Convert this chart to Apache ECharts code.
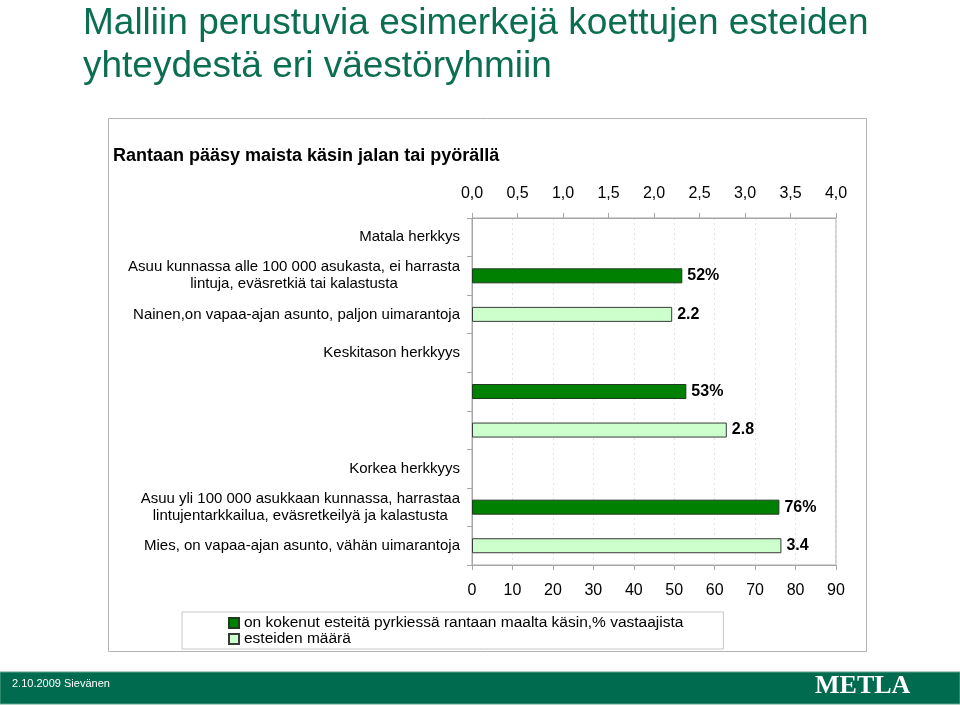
<!DOCTYPE html>
<html>
<head>
<meta charset="utf-8">
<script src="https://cdn.jsdelivr.net/npm/echarts@6/dist/echarts.min.js"></script>
<style>
html,body{margin:0;padding:0;background:#fff;}
#chart{width:960px;height:705px;}
</style>
</head>
<body>
<div id="chart"></div>
<script>
var titleLines = ['Malliin perustuvia esimerkejä koettujen esteiden', 'yhteydestä eri väestöryhmiin'];
var subtitle = 'Rantaan pääsy maista käsin jalan tai pyörällä';
var categories = [
  'Matala herkkys',
  'Asuu kunnassa alle 100 000 asukasta, ei harrasta\nlintuja, eväsretkiä tai kalastusta',
  'Nainen,on vapaa-ajan asunto, paljon uimarantoja',
  'Keskitason herkkyys',
  '',
  ' ',
  'Korkea herkkyys',
  'Asuu yli 100 000 asukkaan kunnassa, harrastaa\nlintujentarkkailua, eväsretkeilyä ja kalastusta',
  'Mies, on vapaa-ajan asunto, vähän uimarantoja'
];
var seriesNames = ['on kokenut esteitä pyrkiessä rantaan maalta käsin,% vastaajista', 'esteiden määrä'];
var sharePct = [null, 52, null, null, 53, null, null, 76, null];
var obstacleCount = [null, null, 2.2, null, null, 2.8, null, null, 3.4];
var pctTicks = {min: 0, max: 90, interval: 10};
var countTicks = {min: 0, max: 4, interval: 0.5};
var footerLeft = '2.10.2009 Sievänen';
var footerRight = 'METLA';

var FONT = '"Liberation Sans", Arial, sans-serif';
var chart = echarts.init(document.getElementById('chart'), null, {renderer: 'canvas'});
var axisGrey = '#a6a6a6';

chart.setOption({
  backgroundColor: '#ffffff',
  animation: false,
  textStyle: {fontFamily: FONT},
  title: [{
    text: titleLines.join('\n'),
    left: 78, top: -3,
    textStyle: {fontFamily: FONT, fontSize: 37, fontWeight: 'normal', color: '#0b6e50', lineHeight: 43}
  }, {
    text: subtitle,
    left: 108, top: 142,
    textStyle: {fontFamily: FONT, fontSize: 18, fontWeight: 'bold', color: '#000'}
  }],
  graphic: [
    {type: 'rect', shape: {x: 108.5, y: 118.5, width: 758, height: 533}, style: {fill: 'none', stroke: '#b4b4b4', lineWidth: 1}, z: -1},
    {type: 'rect', shape: {x: 0, y: 672, width: 960, height: 32}, style: {fill: '#006b4f', stroke: '#5aa58a', lineWidth: 1}},
    {type: 'text', left: 12, top: 678, style: {text: footerLeft, fill: '#fff', font: '11px ' + FONT}},
    {type: 'text', left: 815, top: 673, style: {text: footerRight, fill: '#fff', font: 'bold 26px "Liberation Serif", "Times New Roman", serif'}}
  ],
  legend: {
    orient: 'vertical',
    left: 182, top: 612,
    padding: [3, 40, 2, 46],
    itemGap: 0,
    itemWidth: 10, itemHeight: 10,
    icon: 'rect',
    borderColor: '#c8c8c8', borderWidth: 1,
    textStyle: {fontFamily: FONT, fontSize: 15.5, lineHeight: 16, color: '#000'},
    data: seriesNames
  },
  grid: {left: 472, right: 124, top: 218, bottom: 140, show: true, borderColor: axisGrey, borderWidth: 1, containLabel: false},
  xAxis: [{
    type: 'value', position: 'bottom',
    min: pctTicks.min, max: pctTicks.max, interval: pctTicks.interval,
    axisLine: {show: true, lineStyle: {color: axisGrey}},
    axisTick: {show: true, length: 5, lineStyle: {color: axisGrey}},
    axisLabel: {fontFamily: FONT, fontSize: 16, color: '#000', margin: 18},
    splitLine: {show: true, lineStyle: {color: '#e4e4e4', type: [2, 3]}}
  }, {
    type: 'value', position: 'top',
    min: countTicks.min, max: countTicks.max, interval: countTicks.interval,
    axisLine: {show: true, lineStyle: {color: axisGrey}},
    axisTick: {show: true, length: 5, lineStyle: {color: axisGrey}},
    axisLabel: {fontFamily: FONT, fontSize: 16, color: '#000', margin: 16,
      formatter: function (v) { return v.toFixed(1).replace('.', ','); }},
    splitLine: {show: false}
  }],
  yAxis: {
    type: 'category', inverse: true, data: categories,
    axisLine: {show: true, lineStyle: {color: axisGrey}},
    axisTick: {show: true, length: 5, lineStyle: {color: axisGrey}},
    axisLabel: {
      margin: 12, color: '#000',
      formatter: function (v) {
        if (!v.trim()) return '';
        return v.split('\n').map(function (l) { return '{c|' + l + '}'; }).join('\n');
      },
      rich: {c: {align: 'center', fontFamily: FONT, fontSize: 15, lineHeight: 17, color: '#000'}}
    },
    splitLine: {show: false}
  },
  series: [{
    name: seriesNames[0], type: 'bar', xAxisIndex: 0, data: sharePct,
    barWidth: 15, barGap: '-100%',
    itemStyle: {color: '#008000', borderColor: '#1f3a1f', borderWidth: 1},
    label: {show: true, position: 'right', distance: 5, formatter: '{c}%',
      fontFamily: FONT, fontSize: 16, fontWeight: 'bold', color: '#000'}
  }, {
    name: seriesNames[1], type: 'bar', xAxisIndex: 1, data: obstacleCount,
    barWidth: 15, barGap: '-100%',
    itemStyle: {color: '#ccffcc', borderColor: '#3a3a3a', borderWidth: 1},
    label: {show: true, position: 'right', distance: 5,
      formatter: function (p) { return p.value.toFixed(1); },
      fontFamily: FONT, fontSize: 16, fontWeight: 'bold', color: '#000'}
  }]
});
</script>
</body>
</html>
